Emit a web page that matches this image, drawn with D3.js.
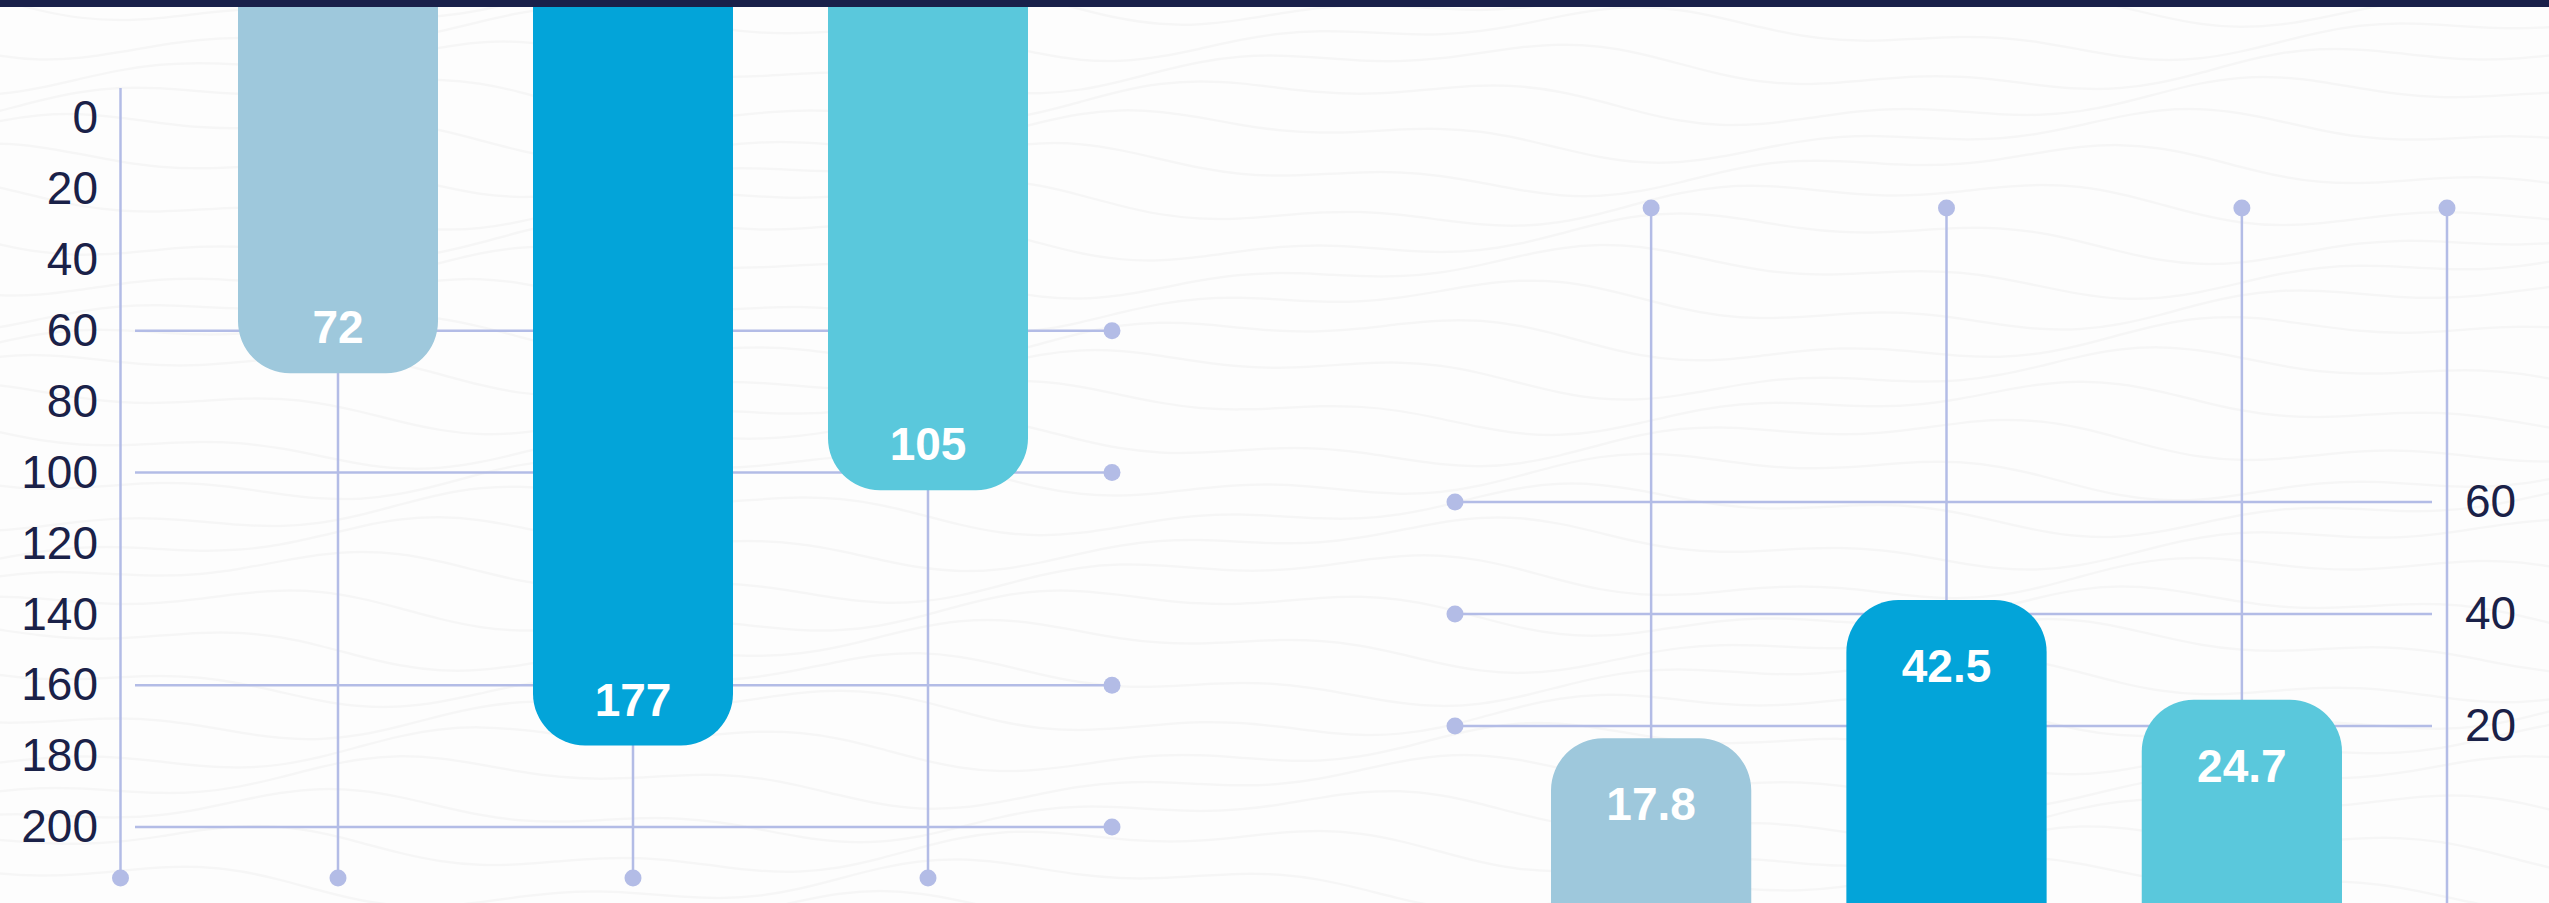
<!DOCTYPE html>
<html>
<head>
<meta charset="utf-8">
<script src="https://cdn.jsdelivr.net/npm/d3@7/dist/d3.min.js"></script>
<style>
  html, body { margin: 0; padding: 0; background: #ffffff; }
  svg { display: block; }
</style>
</head>
<body>
<svg id="chart" width="2549" height="903"></svg>
<script>
// ---------------- data ----------------
const categories   = ["Item A", "Item B", "Item C"];
const topValues    = [72, 177, 105];        // hanging bars (left panel, inverted axis)
const bottomValues = [17.8, 42.5, 24.7];    // rising bars (right panel)
const leftTicks    = [0, 20, 40, 60, 80, 100, 120, 140, 160, 180, 200];
const rightTicks   = [20, 40, 60];
const leftGrid     = [60, 100, 160, 200];
const rightGrid    = [20, 40, 60];
const barColors    = ["#9ec8dc", "#03a4d9", "#5ac8dc"];

// ---------------- layout / style ----------------
const W = 2549, H = 903;
const gridColor = "#b3bce6";
const textColor = "#1a2148";
const fontFamily = "'Liberation Sans', Arial, Helvetica, sans-serif";
const radius = 52;
const dotR = 8.5;

const svg = d3.select("#chart");

// background with subtle wave texture
svg.append("rect").attr("width", W).attr("height", H).attr("fill", "#fdfdfd");
const waveG = svg.append("g").attr("fill", "none").attr("stroke", "#000").attr("stroke-opacity", 0.028).attr("stroke-width", 2.5);
const waveLine = d3.line().curve(d3.curveBasis);
for (let row = -2; row < 30; row++) {
  const pts = [];
  for (let x = -40; x <= W + 40; x += 40) {
    pts.push([x, row * 34 + 18 * Math.sin(x / 160 + row * 0.9) + 10 * Math.sin(x / 57 + row)]);
  }
  waveG.append("path").attr("d", waveLine(pts));
}

// ---------------- scales ----------------
const yL = d3.scaleLinear().domain([0, 200]).range([118, 827]);
const yR = d3.scaleLinear().domain([0, 60]).range([838, 502]);
const xL = d3.scaleBand().domain(categories).range([238, 1028]).paddingInner(95 / 295).paddingOuter(0);
const xR = d3.scaleBand().domain(categories).range([1551, 2342]).paddingInner(95 / 295).paddingOuter(0);

// ---------------- LEFT PANEL ----------------
const left = svg.append("g");
const axisXL = 120.5, gridL0 = 135, gridL1 = 1112, bottomDotY = 878, leftAxisTop = 88;

// horizontal grid lines with end dots
left.selectAll("line.grid").data(leftGrid).join("line")
  .attr("x1", gridL0).attr("x2", gridL1)
  .attr("y1", d => yL(d)).attr("y2", d => yL(d))
  .attr("stroke", gridColor).attr("stroke-width", 2.5);
left.selectAll("circle.gdot").data(leftGrid).join("circle")
  .attr("cx", gridL1).attr("cy", d => yL(d)).attr("r", dotR).attr("fill", gridColor);

// vertical category lines
left.selectAll("line.vcat").data(categories).join("line")
  .attr("x1", d => xL(d) + xL.bandwidth() / 2).attr("x2", d => xL(d) + xL.bandwidth() / 2)
  .attr("y1", leftAxisTop).attr("y2", bottomDotY)
  .attr("stroke", gridColor).attr("stroke-width", 2.5);
left.selectAll("circle.vdot").data(categories).join("circle")
  .attr("cx", d => xL(d) + xL.bandwidth() / 2).attr("cy", bottomDotY).attr("r", dotR).attr("fill", gridColor);

// axis line
left.append("line").attr("x1", axisXL).attr("x2", axisXL).attr("y1", leftAxisTop).attr("y2", bottomDotY)
  .attr("stroke", gridColor).attr("stroke-width", 2.5);
left.append("circle").attr("cx", axisXL).attr("cy", bottomDotY).attr("r", dotR).attr("fill", gridColor);

// tick labels
const axL = left.append("g").attr("transform", "translate(98,0)")
  .call(d3.axisLeft(yL).tickValues(leftTicks).tickSize(0).tickPadding(0));
axL.select(".domain").remove();
axL.selectAll("text").attr("fill", textColor).style("font-family", fontFamily).style("font-size", "46px");

// hanging bars (rounded bottom corners)
function hangPath(x, w, top, bottom, r) {
  return `M${x},${top} H${x + w} V${bottom - r} A${r},${r} 0 0 1 ${x + w - r},${bottom} H${x + r} A${r},${r} 0 0 1 ${x},${bottom - r} Z`;
}
left.selectAll("path.bar").data(topValues).join("path")
  .attr("d", (d, i) => hangPath(xL(categories[i]), xL.bandwidth(), -10, yL(d), radius))
  .attr("fill", (d, i) => barColors[i]);
left.selectAll("text.val").data(topValues).join("text")
  .attr("x", (d, i) => xL(categories[i]) + xL.bandwidth() / 2)
  .attr("y", d => yL(d) - 46)
  .attr("dy", "0.35em")
  .attr("text-anchor", "middle")
  .attr("fill", "#ffffff").style("font-family", fontFamily).style("font-size", "46px").style("font-weight", "bold")
  .text(d => d);

// ---------------- RIGHT PANEL ----------------
const right = svg.append("g");
const axisXR = 2447, gridR0 = 1455, gridR1 = 2432, topDotY = 208;

right.selectAll("line.grid").data(rightGrid).join("line")
  .attr("x1", gridR0).attr("x2", gridR1)
  .attr("y1", d => yR(d)).attr("y2", d => yR(d))
  .attr("stroke", gridColor).attr("stroke-width", 2.5);
right.selectAll("circle.gdot").data(rightGrid).join("circle")
  .attr("cx", gridR0).attr("cy", d => yR(d)).attr("r", dotR).attr("fill", gridColor);

right.selectAll("line.vcat").data(categories).join("line")
  .attr("x1", d => xR(d) + xR.bandwidth() / 2).attr("x2", d => xR(d) + xR.bandwidth() / 2)
  .attr("y1", topDotY).attr("y2", H)
  .attr("stroke", gridColor).attr("stroke-width", 2.5);
right.selectAll("circle.vdot").data(categories).join("circle")
  .attr("cx", d => xR(d) + xR.bandwidth() / 2).attr("cy", topDotY).attr("r", dotR).attr("fill", gridColor);

right.append("line").attr("x1", axisXR).attr("x2", axisXR).attr("y1", topDotY).attr("y2", H)
  .attr("stroke", gridColor).attr("stroke-width", 2.5);
right.append("circle").attr("cx", axisXR).attr("cy", topDotY).attr("r", dotR).attr("fill", gridColor);

const axR = right.append("g").attr("transform", "translate(2465,0)")
  .call(d3.axisRight(yR).tickValues(rightTicks).tickSize(0).tickPadding(0));
axR.select(".domain").remove();
axR.selectAll("text").attr("fill", textColor).style("font-family", fontFamily).style("font-size", "46px");

function risePath(x, w, top, bottom, r) {
  return `M${x},${bottom} V${top + r} A${r},${r} 0 0 1 ${x + r},${top} H${x + w - r} A${r},${r} 0 0 1 ${x + w},${top + r} V${bottom} Z`;
}
right.selectAll("path.bar").data(bottomValues).join("path")
  .attr("d", (d, i) => risePath(xR(categories[i]), xR.bandwidth(), yR(d), H + 10, radius))
  .attr("fill", (d, i) => barColors[i]);
right.selectAll("text.val").data(bottomValues).join("text")
  .attr("x", (d, i) => xR(categories[i]) + xR.bandwidth() / 2)
  .attr("y", d => yR(d) + 66)
  .attr("dy", "0.35em")
  .attr("text-anchor", "middle")
  .attr("fill", "#ffffff").style("font-family", fontFamily).style("font-size", "46px").style("font-weight", "bold")
  .text(d => d);

// top navy band
svg.append("rect").attr("x", 0).attr("y", 0).attr("width", W).attr("height", 7).attr("fill", "#19204a");
</script>
</body>
</html>
